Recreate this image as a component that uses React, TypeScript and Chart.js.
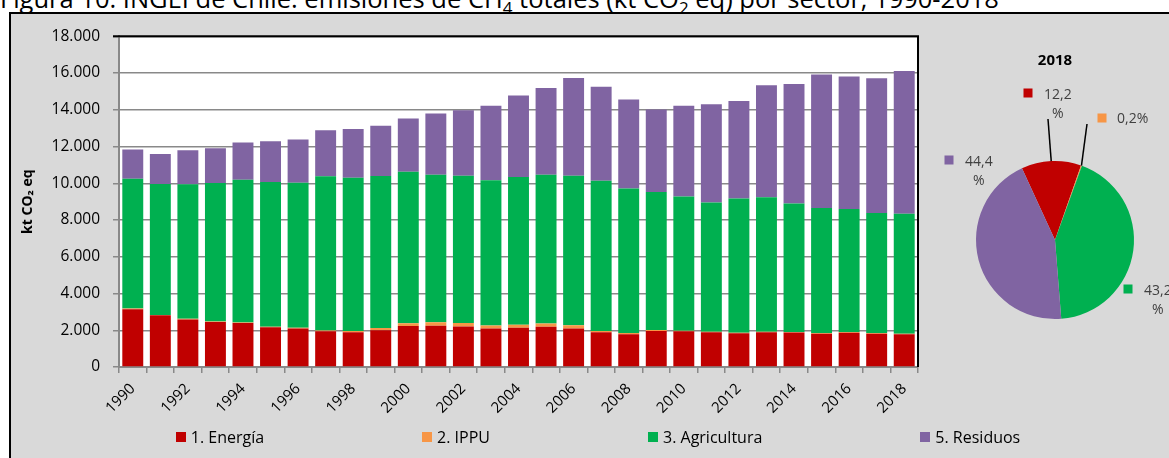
import React, { useEffect, useRef } from "react";
import { Chart, registerables } from "chart.js";

Chart.register(...registerables);

const years = [
  "1990", "1991", "1992", "1993", "1994", "1995", "1996", "1997", "1998", "1999",
  "2000", "2001", "2002", "2003", "2004", "2005", "2006", "2007", "2008", "2009",
  "2010", "2011", "2012", "2013", "2014", "2015", "2016", "2017", "2018",
];

const sectorNames = ["1. Energía", "2. IPPU", "3. Agricultura", "5. Residuos"];

const energia = [3150, 2810, 2590, 2450, 2390, 2160, 2100, 1950, 1890, 2000, 2230, 2250, 2200, 2090, 2140, 2190, 2090, 1890, 1780, 1960, 1945, 1890, 1840, 1890, 1875, 1815, 1870, 1815, 1780];
const ippu = [30, 20, 30, 30, 30, 30, 30, 40, 70, 125, 145, 180, 200, 170, 160, 180, 180, 70, 70, 50, 30, 30, 30, 30, 30, 30, 30, 30, 30];
const agricultura = [7070, 7130, 7325, 7535, 7775, 7880, 7905, 8390, 8345, 8270, 8255, 8035, 8010, 7900, 8040, 8095, 8140, 8180, 7860, 7520, 7300, 7030, 7300, 7325, 6995, 6805, 6695, 6535, 6530];
const residuos = [1590, 1640, 1855, 1895, 2020, 2215, 2345, 2500, 2645, 2740, 2900, 3335, 3570, 4055, 4435, 4725, 5320, 5120, 4845, 4485, 4940, 5355, 5315, 6085, 6505, 7275, 7220, 7330, 7770];

const pieYear = "2018";
const share2018 = [12.2, 0.2, 43.2, 44.4];

const colors = ["#C00000", "#F79646", "#00B050", "#8064A2"];
const FONT = "'Open Sans', 'Noto Sans', sans-serif";
const axisGray = "#898989";

const fmtThousands = (v: number) => {
  const s = Math.round(v).toString();
  return s.replace(/\B(?=(\d{3})+(?!\d))/g, ".");
};

// label placement (pixel offsets from pie centre) – styling only
const pieLabelStyle = [
  { sq: [-27, -147], wrap: true, leader: [-7, -121] },
  { sq: [47, -122], wrap: false, leader: [32, -116] },
  { sq: [73, 49], wrap: true, leader: null },
  { sq: [-106, -80], wrap: true, leader: null },
];

const plotFramePlugin = {
  id: "plotFrame",
  beforeDraw(chart: any) {
    const { ctx, chartArea: a } = chart;
    ctx.save();
    ctx.fillStyle = "#ffffff";
    ctx.fillRect(a.left, a.top, a.right - a.left, a.bottom - a.top);
    ctx.restore();
  },
  afterDraw(chart: any) {
    const { ctx, chartArea: a } = chart;
    ctx.save();
    ctx.strokeStyle = "#000";
    ctx.lineWidth = 2;
    ctx.beginPath();
    ctx.moveTo(a.left - 6, a.top);
    ctx.lineTo(a.right, a.top);
    ctx.lineTo(a.right, a.bottom);
    ctx.stroke();
    ctx.restore();
  },
};

const pieLabelPlugin = {
  id: "pieLabels",
  afterDraw(chart: any) {
    const meta = chart.getDatasetMeta(0);
    const ctx = chart.ctx;
    ctx.save();
    meta.data.forEach((arc: any, i: number) => {
      const st = pieLabelStyle[i];
      const cx = arc.x;
      const cy = arc.y;
      const r = arc.outerRadius;
      const mid = (arc.startAngle + arc.endAngle) / 2;
      if (st.leader) {
        ctx.strokeStyle = "#000";
        ctx.lineWidth = 1.5;
        ctx.beginPath();
        ctx.moveTo(cx + st.leader[0], cy + st.leader[1]);
        ctx.lineTo(cx + Math.cos(mid) * r, cy + Math.sin(mid) * r);
        ctx.stroke();
      }
      const sx = cx + st.sq[0];
      const sy = cy + st.sq[1];
      ctx.fillStyle = colors[i];
      ctx.fillRect(sx - 4.5, sy - 4.5, 9, 9);
      const num = share2018[i].toFixed(1).replace(".", ",");
      ctx.fillStyle = "#404040";
      ctx.font = `14px ${FONT}`;
      ctx.textBaseline = "middle";
      if (st.wrap) {
        ctx.textAlign = "left";
        const tx = sx + 16;
        ctx.fillText(num, tx, sy + 2);
        const w = ctx.measureText(num).width;
        ctx.textAlign = "center";
        ctx.fillText("%", tx + w / 2, sy + 21);
      } else {
        ctx.textAlign = "left";
        ctx.fillText(num + "%", sx + 15, sy + 1);
      }
    });
    ctx.restore();
  },
};

export default function App() {
  const barRef = useRef<HTMLCanvasElement | null>(null);
  const pieRef = useRef<HTMLCanvasElement | null>(null);

  useEffect(() => {
    const series = [energia, ippu, agricultura, residuos];
    const bar = new Chart(barRef.current as HTMLCanvasElement, {
      type: "bar",
      data: {
        labels: years,
        datasets: series.map((d, i) => ({
          label: sectorNames[i],
          data: d,
          backgroundColor: colors[i],
          borderWidth: 0,
          barPercentage: 0.76,
          categoryPercentage: 1,
        })),
      },
      options: {
        animation: false,
        responsive: true,
        maintainAspectRatio: false,
        layout: { padding: { left: 0, right: 7, top: 20, bottom: 0 } },
        plugins: { legend: { display: false }, tooltip: { enabled: false } },
        scales: {
          x: {
            stacked: true,
            grid: {
              display: true,
              drawOnChartArea: false,
              drawTicks: true,
              tickLength: 6,
              color: axisGray,
              lineWidth: 1.5,
              offset: true,
            },
            border: { display: true, color: axisGray, width: 2 },
            ticks: {
              autoSkip: false,
              maxRotation: 45,
              minRotation: 45,
              padding: 7,
              color: "#000",
              font: { family: FONT, size: 15 },
              callback: (_v: any, i: number) => (Number(years[i]) % 2 === 0 ? years[i] : ""),
            },
            afterFit: (a: any) => {
              a.height = 91;
            },
          },
          y: {
            stacked: true,
            min: 0,
            max: 18000,
            ticks: {
              stepSize: 2000,
              padding: 13,
              color: "#000",
              font: { family: FONT, size: 15.5 },
              callback: (v: any) => fmtThousands(Number(v)),
            },
            grid: { color: axisGray, lineWidth: 1.5, tickLength: 6 },
            border: { color: axisGray, width: 2 },
            title: {
              display: true,
              text: "kt CO₂ eq",
              color: "#000",
              font: { family: FONT, size: 14, weight: "bold" },
              padding: { top: 10, bottom: 0 },
            },
            afterFit: (a: any) => {
              a.width = 109;
            },
          },
        },
      },
      plugins: [plotFramePlugin],
    } as any);

    const pie = new Chart(pieRef.current as HTMLCanvasElement, {
      type: "pie",
      data: {
        labels: sectorNames,
        datasets: [{ data: share2018, backgroundColor: colors, borderWidth: 0 }],
      },
      options: {
        animation: false,
        responsive: true,
        maintainAspectRatio: false,
        rotation: -24.7,
        layout: { padding: { left: 56, right: 35, top: 0, bottom: 81 } },
        plugins: {
          legend: { display: false },
          tooltip: { enabled: false },
          title: {
            display: true,
            text: pieYear,
            color: "#000",
            font: { family: FONT, size: 15, weight: "bold" },
            padding: { top: 38, bottom: 91 },
          },
        },
      },
      plugins: [pieLabelPlugin],
    } as any);

    return () => {
      bar.destroy();
      pie.destroy();
    };
  }, []);

  return (
    <div
      style={{
        position: "absolute",
        left: 0,
        top: 0,
        width: 1169,
        height: 458,
        overflow: "hidden",
        background: "#fff",
        fontFamily: FONT,
      }}
    >
      <div
        style={{
          position: "absolute",
          left: 0,
          top: -14,
          fontSize: 25.5,
          lineHeight: "25.5px",
          whiteSpace: "nowrap",
          color: "#000",
        }}
      >
        Figura 10: INGEI de Chile: emisiones de CH<sub style={{ fontSize: 17 }}>4</sub> totales (kt CO
        <sub style={{ fontSize: 17 }}>2</sub> eq) por sector, 1990-2018
      </div>
      <div
        style={{
          position: "absolute",
          left: 9,
          top: 12,
          width: 1220,
          height: 520,
          background: "#d9d9d9",
          border: "2px solid #000",
          boxSizing: "border-box",
        }}
      />
      <div style={{ position: "absolute", left: 10, top: 14, width: 915, height: 444 }}>
        <canvas ref={barRef} />
      </div>
      <div style={{ position: "absolute", left: 920, top: 14, width: 249, height: 386 }}>
        <canvas ref={pieRef} />
      </div>
      <div
        style={{
          position: "absolute",
          left: 0,
          width: 1196,
          top: 427,
          height: 20,
          display: "flex",
          justifyContent: "center",
          alignItems: "center",
          gap: 158,
          fontSize: 16,
          color: "#000",
        }}
      >
        {sectorNames.map((n, i) => (
          <div key={n} style={{ display: "flex", alignItems: "center", whiteSpace: "nowrap" }}>
            <span style={{ display: "inline-block", width: 10, height: 10, background: colors[i], marginRight: 5 }} />
            <span>{n}</span>
          </div>
        ))}
      </div>
    </div>
  );
}
